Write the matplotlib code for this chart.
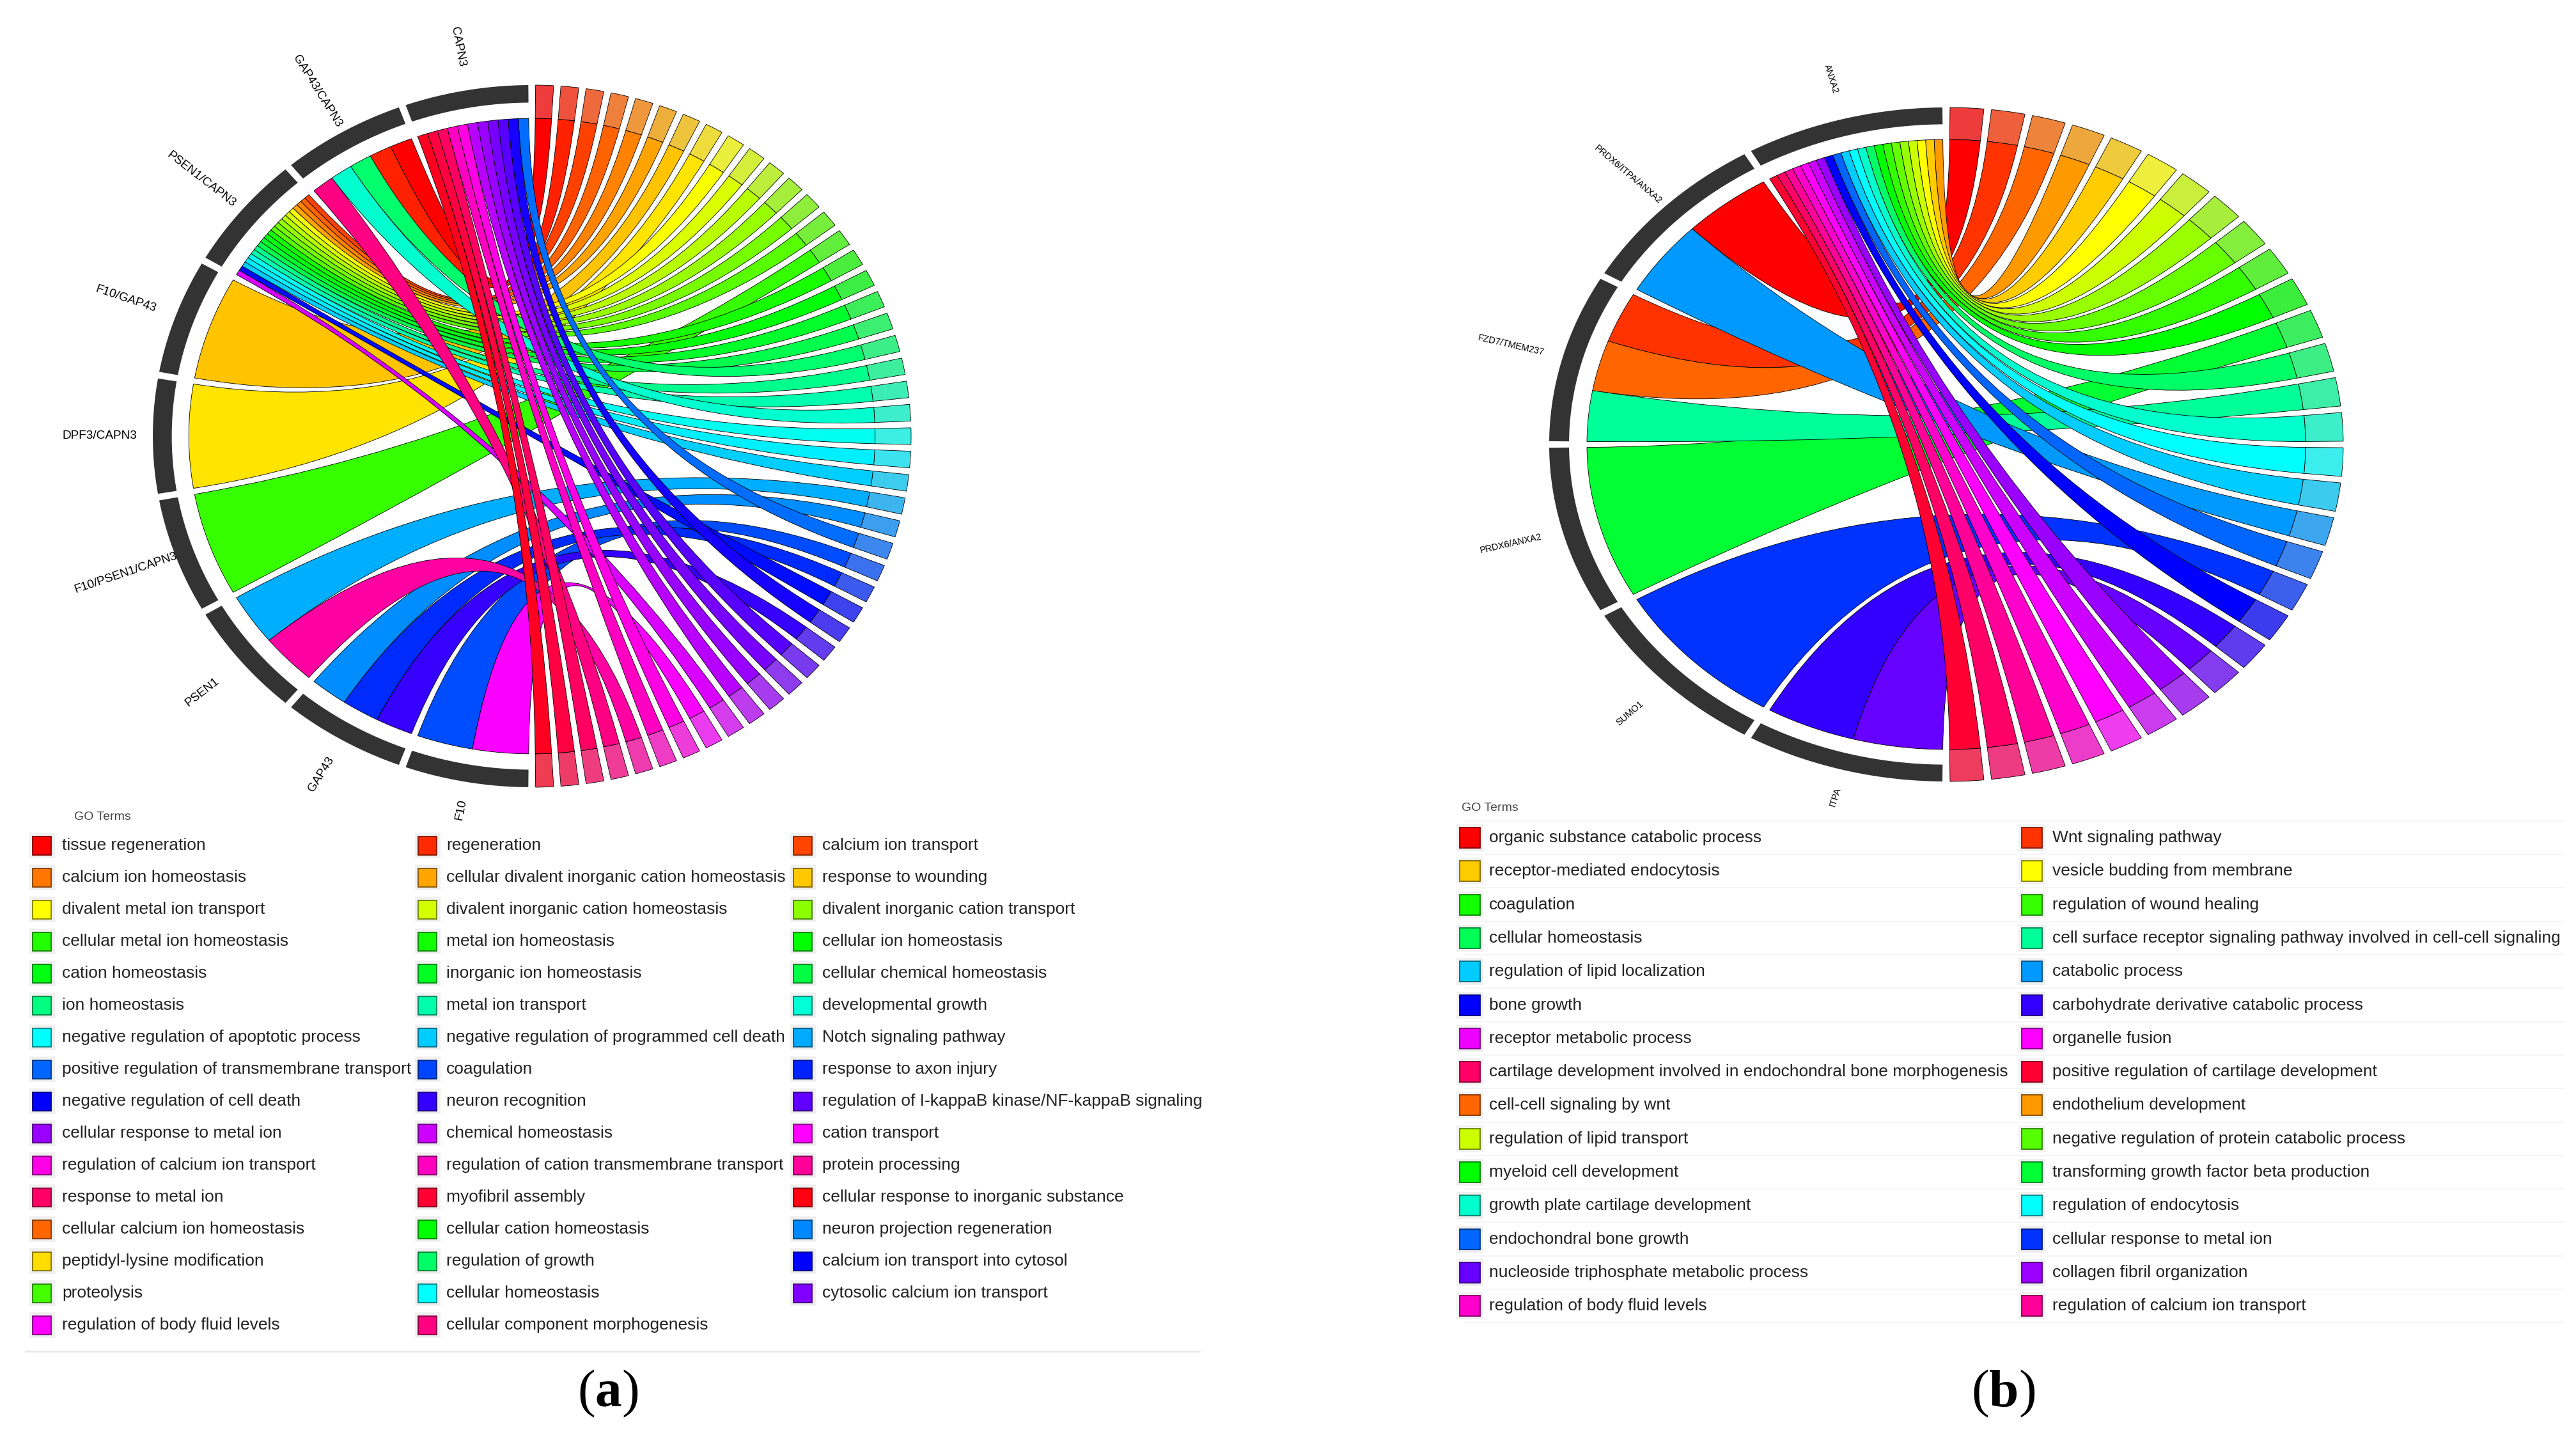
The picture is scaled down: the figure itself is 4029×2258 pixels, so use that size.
import colorsys
import numpy as np
import matplotlib
matplotlib.use("Agg")
import matplotlib.pyplot as plt
from matplotlib.path import Path
from matplotlib.patches import PathPatch, Rectangle
from matplotlib.colors import to_rgb

plt.rcParams['font.family'] = ['Liberation Sans', 'DejaVu Sans']
plt.rcParams['mathtext.fontset'] = 'custom'
plt.rcParams['mathtext.rm'] = 'Liberation Serif'
plt.rcParams['mathtext.bf'] = 'Liberation Serif:bold'

# ======================= DATA =======================
# ---- panel (a): gene groups (left half, top -> bottom) and linked GO-term slots (right half, top -> bottom)
groups_a = ["CAPN3", "GAP43/CAPN3", "PSEN1/CAPN3", "F10/GAP43", "DPF3/CAPN3",
            "F10/PSEN1/CAPN3", "PSEN1", "GAP43", "F10"]
n_terms_a = 47
links_a = [
    [28, 32, 34, 35, 36, 37, 40, 41, 44, 45, 46],
    [0, 1, 19, 22, 43],
    [2, 3, 4, 5, 8, 9, 10, 11, 12, 13, 15, 16, 17, 18, 20, 21, 23, 24, 25, 31, 38],
    [6],
    [7],
    [14],
    [26, 42],
    [27, 30, 33],
    [29, 39],
]
legend_a_terms = [
    "tissue regeneration", "regeneration", "calcium ion transport",
    "calcium ion homeostasis", "cellular divalent inorganic cation homeostasis", "response to wounding",
    "divalent metal ion transport", "divalent inorganic cation homeostasis", "divalent inorganic cation transport",
    "cellular metal ion homeostasis", "metal ion homeostasis", "cellular ion homeostasis",
    "cation homeostasis", "inorganic ion homeostasis", "cellular chemical homeostasis",
    "ion homeostasis", "metal ion transport", "developmental growth",
    "negative regulation of apoptotic process", "negative regulation of programmed cell death", "Notch signaling pathway",
    "positive regulation of transmembrane transport", "coagulation", "response to axon injury",
    "negative regulation of cell death", "neuron recognition", "regulation of I-kappaB kinase/NF-kappaB signaling",
    "cellular response to metal ion", "chemical homeostasis", "cation transport",
    "regulation of calcium ion transport", "regulation of cation transmembrane transport", "protein processing",
    "response to metal ion", "myofibril assembly", "cellular response to inorganic substance",
    "cellular calcium ion homeostasis", "cellular cation homeostasis", "neuron projection regeneration",
    "peptidyl-lysine modification", "regulation of growth", "calcium ion transport into cytosol",
    "proteolysis", "cellular homeostasis", "cytosolic calcium ion transport",
    "regulation of body fluid levels", "cellular component morphogenesis",
]
legend_a_colors = [
    "#FF0000", "#FF2A00", "#FF4500",
    "#FF7700", "#FFA500", "#FFC800",
    "#FFFF00", "#D4FF00", "#8CFF00",
    "#22FF00", "#11FF00", "#00FF00",
    "#00FF11", "#00FF22", "#00FF44",
    "#00FF80", "#00FFAA", "#00FFD4",
    "#00FFFF", "#00CCFF", "#00AAFF",
    "#0066FF", "#0044FF", "#0022FF",
    "#0000FF", "#3300FF", "#6000FF",
    "#9900FF", "#CC00FF", "#FF00FF",
    "#FF00E6", "#FF00C0", "#FF0099",
    "#FF0066", "#FF0033", "#FF0011",
    "#FF6600", "#00FF00", "#0088FF",
    "#FFDD00", "#00FF66", "#0000FF",
    "#44FF00", "#00FFFF", "#8000FF",
    "#FF00FF", "#FF0080",
]

# ---- panel (b)
groups_b = ["ANXA2", "PRDX6/ITPA/ANXA2", "FZD7/TMEM237", "PRDX6/ANXA2", "SUMO1", "ITPA"]
n_terms_b = 30
links_b = [
    [3, 4, 5, 6, 7, 8, 9, 10, 12, 14, 15, 16, 18, 20, 23, 24, 25, 26, 27, 28, 29],
    [0, 17],
    [1, 2, 13],
    [11],
    [19],
    [21, 22],
]
legend_b_terms = [
    "organic substance catabolic process", "Wnt signaling pathway",
    "receptor-mediated endocytosis", "vesicle budding from membrane",
    "coagulation", "regulation of wound healing",
    "cellular homeostasis", "cell surface receptor signaling pathway involved in cell-cell signaling",
    "regulation of lipid localization", "catabolic process",
    "bone growth", "carbohydrate derivative catabolic process",
    "receptor metabolic process", "organelle fusion",
    "cartilage development involved in endochondral bone morphogenesis", "positive regulation of cartilage development",
    "cell-cell signaling by wnt", "endothelium development",
    "regulation of lipid transport", "negative regulation of protein catabolic process",
    "myeloid cell development", "transforming growth factor beta production",
    "growth plate cartilage development", "regulation of endocytosis",
    "endochondral bone growth", "cellular response to metal ion",
    "nucleoside triphosphate metabolic process", "collagen fibril organization",
    "regulation of body fluid levels", "regulation of calcium ion transport",
]
legend_b_colors = [
    "#FF0000", "#FF3300",
    "#FFCC00", "#FFFF00",
    "#11FF00", "#33FF00",
    "#00FF55", "#00FF99",
    "#00CCFF", "#0099FF",
    "#0000FF", "#3300FF",
    "#EE00FF", "#FF00FF",
    "#FF0066", "#FF0033",
    "#FF6600", "#FF9900",
    "#CCFF00", "#55FF00",
    "#00FF00", "#00FF33",
    "#00FFCC", "#00FFFF",
    "#0066FF", "#0033FF",
    "#6600FF", "#9900FF",
    "#FF00CC", "#FF0099",
]

# ======================= DRAWING =======================
W, H, DPI = 4030, 2258, 100
fig = plt.figure(figsize=(W / DPI, H / DPI), dpi=DPI)
fig.patch.set_facecolor('white')

EXT = 1.25
R_OUT, R_TRACK, R_RIB = 1.0, 0.95, 0.905
HALF_GAP = 0.55

# legend overlay (pixel coordinates), created first so chord labels sit above it
lg = fig.add_axes([0, 0, 1, 1])
lg.set_xlim(0, W)
lg.set_ylim(H, 0)
lg.axis('off')
lg.patch.set_alpha(0)


def arc(r, a0, a1, n=48):
    t = np.radians(np.linspace(a0, a1, n))
    return np.column_stack([r * np.cos(t), r * np.sin(t)])


def band_path(r0, r1, a0, a1):
    outer = arc(r1, a0, a1)
    inner = arc(r0, a1, a0)
    verts = np.vstack([outer, inner, outer[:1]])
    codes = [Path.MOVETO] + [Path.LINETO] * (len(verts) - 2) + [Path.CLOSEPOLY]
    return Path(verts, codes)


def ribbon_path(r, s0, s1, t0, t1):
    A = arc(r, s0, s1)
    B = arc(r, t0, t1)
    verts = list(A) + [(0.0, 0.0), B[0]] + list(B[1:]) + [(0.0, 0.0), A[0], A[0]]
    codes = ([Path.MOVETO] + [Path.LINETO] * (len(A) - 1) + [Path.CURVE3, Path.CURVE3]
             + [Path.LINETO] * (len(B) - 1) + [Path.CURVE3, Path.CURVE3, Path.CLOSEPOLY])
    return Path(np.array(verts), codes)


def chord_axes(cx, cy, rx, ry):
    ax = fig.add_axes([(cx - EXT * rx) / W, 1 - (cy + EXT * ry) / H,
                       2 * EXT * rx / W, 2 * EXT * ry / H])
    ax.set_xlim(-EXT, EXT)
    ax.set_ylim(-EXT, EXT)
    ax.axis('off')
    ax.patch.set_alpha(0)
    return ax


def draw_chord(ax, groups, links, n_terms, rx, ry, label_size, label_r):
    ng = len(groups)
    gw = 180.0 / ng
    tw = 180.0 / n_terms
    # gene group tracks + labels
    for g, name in enumerate(groups):
        a0 = 90 + g * gw + HALF_GAP
        a1 = 90 + (g + 1) * gw - HALF_GAP
        ax.add_patch(PathPatch(band_path(R_TRACK, R_OUT, a0, a1), fc='#333333', ec='none'))
        m = np.radians(90 + (g + 0.5) * gw)
        s = np.sin(m)
        rl = label_r - 0.065 * max(0.0, -s) ** 6 - 0.015 * max(0.0, s) ** 6
        disp = np.degrees(np.arctan2(ry * np.sin(m), rx * np.cos(m)))
        ax.text(rl * np.cos(m), rl * np.sin(m), name, fontsize=label_size,
                rotation=disp - 180, rotation_mode='anchor', ha='center', va='center',
                color='black')
    # term slots
    span = {}
    for i in range(n_terms):
        b1 = 90 - i * tw - HALF_GAP
        b0 = 90 - (i + 1) * tw + HALF_GAP
        span[i] = (b0, b1)
        col = colorsys.hsv_to_rgb(i / n_terms, 1.0, 1.0)
        tip = tuple(0.7 * v + 0.3 * 0.78 for v in col)
        ax.add_patch(PathPatch(band_path(R_RIB, R_OUT, b0, b1), fc=tip, ec='black', lw=0.6))
    # ribbons
    ribbons = []
    for g, terms in enumerate(links):
        a0 = 90 + g * gw + HALF_GAP
        a1 = 90 + (g + 1) * gw - HALF_GAP
        step = (a1 - a0) / len(terms)
        for j, t in enumerate(sorted(terms)):
            ribbons.append((t, a0 + j * step, a0 + (j + 1) * step))
    for t, s0, s1 in sorted(ribbons):
        b0, b1 = span[t]
        col = colorsys.hsv_to_rgb(t / n_terms, 1.0, 1.0)
        ax.add_patch(PathPatch(ribbon_path(R_RIB, s0, s1, b0, b1), fc=col, ec='black',
                               lw=0.6, joinstyle='round'))


# panel (a) chord
CXA, CYA, RXA, RYA = 832, 682, 593, 549
ax_a = chord_axes(CXA, CYA, RXA, RYA)
draw_chord(ax_a, groups_a, links_a, n_terms_a, RXA, RYA, 13.7, 1.14)

# panel (b) chord
CXB, CYB, RXB, RYB = 3044, 695, 621, 527
ax_b = chord_axes(CXB, CYB, RXB, RYB)
draw_chord(ax_b, groups_b, links_b, n_terms_b, RXB, RYB, 10.4, 1.135)


def draw_legend(terms, colors, ncol, x_sw, x_tx, y0, dy, sw, bg, fs, title_xy, row_lines=None):
    lg.text(title_xy[0], title_xy[1], "GO Terms", fontsize=14, color='#444444',
            ha='left', va='center')
    nrow = int(np.ceil(len(terms) / ncol))
    if row_lines is not None:
        for r in range(nrow + 1):
            y = y0 - dy / 2 + r * dy
            lg.plot(row_lines, [y, y], color='#F3F3F3', lw=1.2, zorder=0)
    for k, (name, col) in enumerate(zip(terms, colors)):
        r, c = divmod(k, ncol)
        y = y0 + r * dy
        lg.add_patch(Rectangle((x_sw[c] - bg / 2, y - bg / 2), bg, bg, fc='#F0F0F0', ec='none'))
        edge = tuple(0.5 * v for v in to_rgb(col))
        lg.add_patch(Rectangle((x_sw[c] - sw / 2, y - sw / 2), sw, sw, fc=col, ec=edge, lw=1.3))
        lg.text(x_tx[c], y, name, fontsize=fs, color='#222222', ha='left', va='center')


draw_legend(legend_a_terms, legend_a_colors, 3, [66, 669, 1256], [97, 698, 1286],
            1322, 50, 29, 40, 19, (116, 1277))
lg.plot([40, 1876], [2113, 2113], color='#E8E8E8', lw=2)

draw_legend(legend_b_terms, legend_b_colors, 2, [2299, 3178], [2329, 3210],
            1310, 52.3, 32, 42, 19, (2286, 1264), row_lines=[2290, 4010])

# panel tags
lg.text(951, 2179, r"($\mathbf{a}$)", fontsize=60, family='Liberation Serif',
        ha='center', va='center', color='black')
lg.text(3133, 2179, r"($\mathbf{b}$)", fontsize=60, family='Liberation Serif',
        ha='center', va='center', color='black')

fig.savefig("out.png", dpi=DPI, facecolor='white')
